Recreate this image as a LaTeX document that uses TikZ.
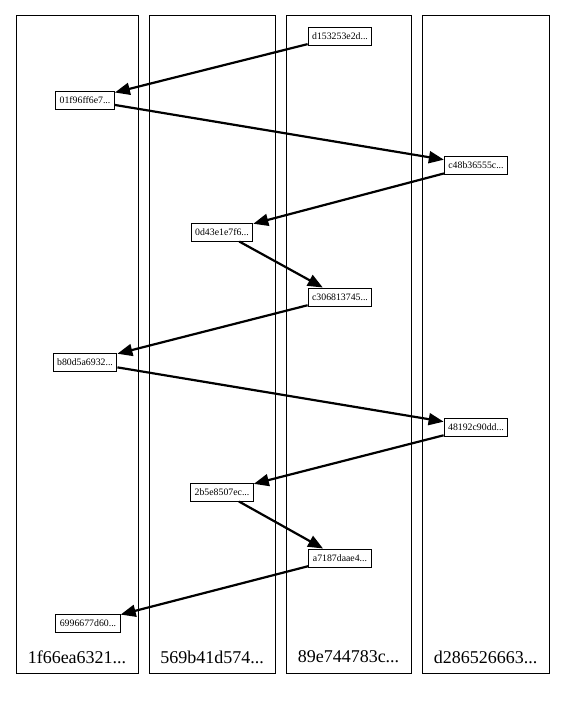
\documentclass[tikz,border=0pt]{standalone}
\usepackage{fontspec}
\setmainfont{Liberation Serif}
\usetikzlibrary{arrows.meta,positioning}
\tikzset{lane/.style={draw,line width=1pt,minimum width=#1,minimum height=658pt,inner sep=0pt},
commit/.style={draw,line width=1pt,fill=white,font=\fontsize{9.8}{11}\selectfont,inner xsep=4pt,inner ysep=2pt,minimum height=18pt},
arr/.style={-{Triangle[length=15pt,width=12pt]},line width=2.2pt,shorten <=0pt}}
\begin{document}
\begin{tikzpicture}[x=1pt,y=-1pt]
\useasboundingbox (0,0) rectangle (565,707);
\node[lane=122pt](l1)at(77,344){};
\node[lane=126pt](l2)at(212,344){};
\node[lane=125pt](l3)at(348.5,344){};
\node[lane=127pt](l4)at(485.5,344){};
\node[font=\fontsize{18}{20}\selectfont](t1)at(77,657){1f66ea6321...};
\node[font=\fontsize{18}{20}\selectfont](t2)at(212,657){569b41d574...};
\node[font=\fontsize{18}{20}\selectfont](t3)at(348.5,657){89e744783c...};
\node[font=\fontsize{18}{20}\selectfont](t4)at(485.5,657){d286526663...};
\node[commit](c1)at(340,36){d153253e2d...};
\node[commit](c2)at(85,100){01f96ff6e7...};
\node[commit](c3)at(476,165){c48b36555c...};
\node[commit](c4)at(222,232){0d43e1e7f6...};
\node[commit](c5)at(340,297){c306813745...};
\node[commit](c6)at(85,362){b80d5a6932...};
\node[commit](c7)at(476,427){48192c90dd...};
\node[commit](c8)at(222,492){2b5e8507ec...};
\node[commit](c9)at(340,558){a7187daae4...};
\node[commit](c10)at(88,623){6996677d60...};
\foreach\a/\b in{c1/c2,c2/c3,c3/c4,c4/c5,c5/c6,c6/c7,c7/c8,c8/c9,c9/c10}\draw[arr](\a)--(\b);
\end{tikzpicture}
\end{document}
